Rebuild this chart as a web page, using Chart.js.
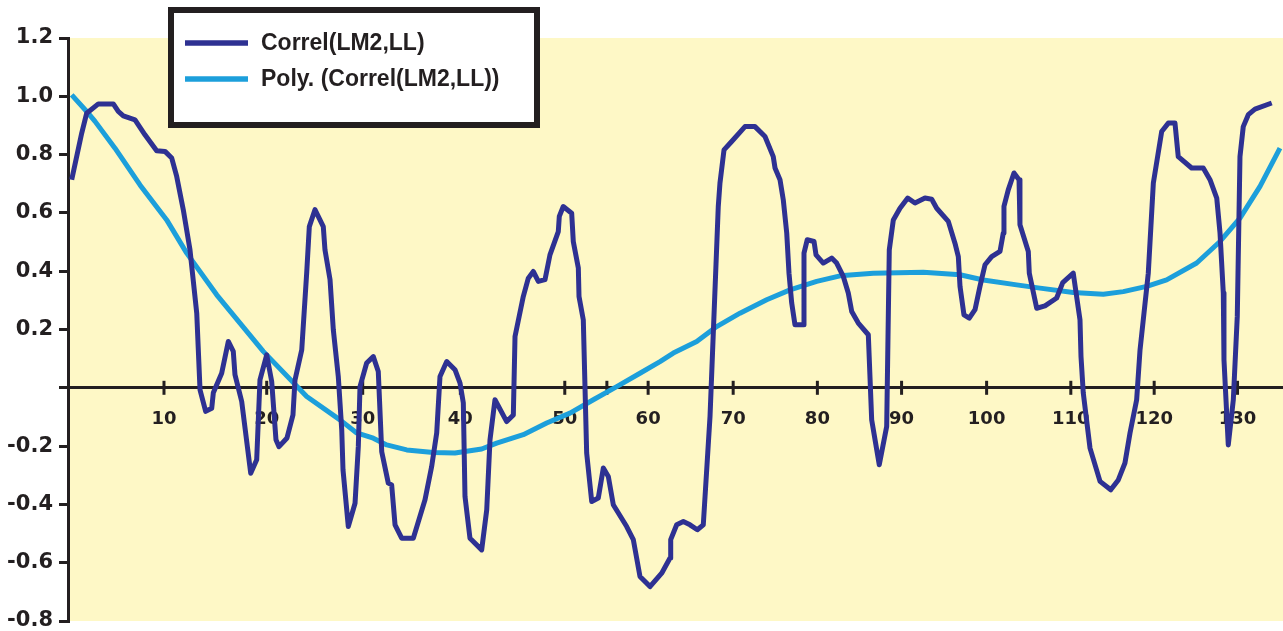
<!DOCTYPE html>
<html>
<head>
    <title>Correl(LM2,LL)</title>
    <script src="https://cdn.jsdelivr.net/npm/chart.js"></script>
    <style>
        body { margin: 0; background: #ffffff; }
        #wrap { width: 1283px; height: 631px; position: relative; }
    </style>
</head>
<body>
    <div id="wrap"><canvas id="corrChart"></canvas></div>
    <script>
    // x values are positions along the category axis (the labelled ticks are not evenly spaced)
    const xTickAt = [11.4, 23.6, 35.0, 46.6, 59.0, 64.0, 68.9, 79.0, 89.0, 99.0, 109.1, 119.1, 129.0, 138.9];
    const xTickText = ['10', '20', '30', '40', '50', '', '60', '70', '80', '90', '100', '110', '120', '130'];

    const corrX = [0.44,1.63,2.22,3.60,5.38,5.97,6.57,7.96,9.14,10.53,
        11.52,12.32,12.91,13.69,14.49,15.29,15.68,16.35,17.07,17.26,
        18.25,19.04,19.63,19.83,20.63,21.70,22.41,22.80,23.60,24.19,
        24.70,25.06,26.01,26.72,26.96,27.76,28.35,28.66,29.33,30.32,
        30.52,31.12,31.51,32.10,32.51,32.66,33.29,34.09,34.48,34.68,
        35.47,36.26,36.85,37.26,38.04,38.44,38.84,39.63,41.01,42.40,
        43.19,43.79,44.18,44.98,45.96,46.56,46.95,47.15,47.74,49.13,
        49.73,50.12,50.71,52.10,52.89,53.09,54.07,54.67,55.26,55.86,
        56.65,57.24,58.23,58.35,58.82,59.82,60.01,60.61,60.69,61.20,
        61.60,62.20,62.98,63.58,64.17,64.76,66.35,67.14,67.93,69.12,
        70.51,71.50,71.58,72.29,73.08,73.87,74.74,75.45,76.25,77.23,
        77.43,77.91,78.82,80.40,81.59,82.78,83.76,83.97,84.56,84.95,
        85.36,85.63,85.95,86.34,87.33,87.41,87.80,88.60,88.84,89.70,
        90.70,91.29,92.08,92.67,93.08,93.86,95.05,95.45,96.35,97.23,
        97.54,98.02,98.81,99.73,100.59,101.78,102.58,103.17,104.55,105.34,
        105.74,105.94,106.41,107.04,107.72,108.31,108.91,109.70,110.69,111.08,
        111.16,111.67,112.35,112.95,113.06,114.05,114.17,115.05,116.03,117.42,
        118.14,119.39,120.19,120.31,120.58,121.38,122.57,123.84,124.74,125.53,
        126.13,126.92,127.32,128.30,128.90,129.89,130.68,131.47,131.86,133.45,
        134.83,135.63,136.43,136.82,137.21,137.29,137.80,138.40,138.87,139.19,
        139.58,140.18,140.97,142.96];
    const corrY = [0.714,0.874,0.942,0.974,0.974,0.948,0.933,0.919,0.868,0.813,
        0.811,0.788,0.725,0.611,0.473,0.256,-0.007,-0.081,-0.070,-0.017,
        0.050,0.159,0.125,0.045,-0.047,-0.293,-0.247,0.027,0.113,0.022,
        -0.178,-0.202,-0.172,-0.093,0.027,0.130,0.395,0.553,0.611,0.553,
        0.473,0.371,0.199,0.039,-0.144,-0.281,-0.476,-0.396,-0.201,0.004,
        0.085,0.107,0.056,-0.219,-0.327,-0.333,-0.470,-0.516,-0.516,-0.384,
        -0.270,-0.155,0.039,0.090,0.062,0.016,-0.052,-0.373,-0.516,-0.556,
        -0.419,-0.178,-0.041,-0.116,-0.093,0.176,0.313,0.376,0.399,0.365,
        0.371,0.456,0.536,0.588,0.622,0.599,0.502,0.411,0.313,0.233,
        -0.224,-0.390,-0.378,-0.275,-0.304,-0.401,-0.476,-0.521,-0.647,-0.682,
        -0.636,-0.584,-0.521,-0.470,-0.459,-0.470,-0.487,-0.470,-0.098,0.622,
        0.702,0.816,0.845,0.896,0.896,0.862,0.793,0.754,0.714,0.645,
        0.531,0.393,0.291,0.216,0.216,0.462,0.508,0.502,0.456,0.428,
        0.445,0.428,0.382,0.325,0.262,0.222,0.182,-0.110,-0.264,-0.133,
        0.473,0.576,0.616,0.651,0.634,0.651,0.647,0.616,0.571,0.496,
        0.450,0.348,0.250,0.239,0.268,0.348,0.422,0.450,0.468,0.531,
        0.622,0.679,0.737,0.714,0.559,0.468,0.393,0.273,0.281,0.308,
        0.361,0.393,0.233,0.107,-0.018,-0.207,-0.321,-0.350,-0.316,-0.258,
        -0.155,-0.041,0.130,0.393,0.702,0.879,0.908,0.908,0.793,0.754,
        0.754,0.714,0.651,0.531,0.325,0.096,-0.196,-0.041,0.245,0.793,
        0.896,0.937,0.956,0.977];

    // polynomial trend line
    const polyX = [0.44,2.22,3.21,5.58,8.55,11.72,14.10,17.66,23.19,28.35,
        32.30,34.29,36.26,37.85,40.23,43.38,45.96,49.13,50.91,54.07,
        56.85,59.62,62.39,65.17,67.93,70.31,71.89,74.67,77.04,79.81,
        82.98,85.75,88.92,91.69,95.64,101.58,105.94,108.71,112.67,115.44,
        119.39,122.96,125.33,128.11,130.48,134.05,136.82,139.19,141.57,143.94];
    const polyY = [1.005,0.948,0.914,0.822,0.696,0.576,0.462,0.319,0.125,-0.030,
        -0.110,-0.155,-0.173,-0.196,-0.213,-0.222,-0.224,-0.210,-0.190,-0.161,
        -0.121,-0.087,-0.041,0.004,0.050,0.090,0.119,0.159,0.210,0.256,
        0.302,0.336,0.365,0.384,0.393,0.396,0.388,0.370,0.353,0.342,
        0.327,0.321,0.330,0.348,0.370,0.428,0.502,0.582,0.691,0.822];

    const ink = '#231f20';
    const axisFont = 'DejaVu Sans';

    const plotBg = {
        id: 'plotBg',
        beforeDraw(chart) {
            const {ctx, chartArea: a} = chart;
            ctx.save();
            ctx.fillStyle = '#fef8c6';
            ctx.fillRect(a.left, a.top, a.right - a.left, a.bottom - a.top);
            ctx.restore();
        }
    };

    // tick marks on the x axis cross the line
    const crossTicks = {
        id: 'crossTicks',
        beforeDatasetsDraw(chart) {
            const {ctx, scales} = chart;
            const y0 = scales.y.getPixelForValue(0);
            ctx.save();
            ctx.strokeStyle = ink;
            ctx.lineWidth = 3;
            scales.x.ticks.forEach(t => {
                const px = scales.x.getPixelForValue(t.value);
                ctx.beginPath();
                ctx.moveTo(px, y0 - 7);
                ctx.lineTo(px, y0 + 7);
                ctx.stroke();
            });
            ctx.restore();
        }
    };

    const boxLegend = {
        id: 'boxLegend',
        afterDraw(chart) {
            const ctx = chart.ctx;
            ctx.save();
            ctx.fillStyle = '#ffffff';
            ctx.fillRect(171, 10, 366, 115);
            ctx.strokeStyle = ink;
            ctx.lineWidth = 6;
            ctx.strokeRect(171, 10, 366, 115);
            ctx.font = 'bold 23px "Liberation Sans"';
            ctx.textBaseline = 'middle';
            chart.data.datasets.forEach((ds, i) => {
                const y = 43 + i * 36;
                ctx.strokeStyle = ds.borderColor;
                ctx.lineWidth = 5.5;
                ctx.beginPath();
                ctx.moveTo(185, y);
                ctx.lineTo(248, y);
                ctx.stroke();
                ctx.fillStyle = ink;
                ctx.fillText(ds.label, 261, y + 1);
            });
            ctx.restore();
        }
    };

    const ctx = document.getElementById('corrChart').getContext('2d');
    new Chart(ctx, {
        type: 'line',
        data: {
            datasets: [{
                label: 'Correl(LM2,LL)',
                data: corrX.map((x, i) => ({x: x, y: corrY[i]})),
                borderColor: '#2e3192',
                borderWidth: 5,
                borderJoinStyle: 'round',
                pointRadius: 0,
                tension: 0
            }, {
                label: 'Poly. (Correl(LM2,LL))',
                data: polyX.map((x, i) => ({x: x, y: polyY[i]})),
                borderColor: '#1c9fdb',
                borderWidth: 5,
                borderJoinStyle: 'round',
                pointRadius: 0,
                tension: 0
            }]
        },
        options: {
            responsive: true,
            maintainAspectRatio: false,
            animation: false,
            layout: { padding: { top: 38, bottom: 10, left: 0, right: 0 } },
            plugins: {
                legend: { display: false },
                tooltip: { enabled: false }
            },
            scales: {
                x: {
                    type: 'linear',
                    position: { y: 0 },
                    min: 0,
                    max: 144.3,
                    afterBuildTicks: scale => {
                        scale.ticks = xTickAt.map(v => ({value: v}));
                    },
                    afterFit: scale => {
                        scale.paddingLeft = 0;
                        scale.paddingRight = 0;
                    },
                    grid: { display: false },
                    border: { display: true, color: ink, width: 3 },
                    ticks: {
                        autoSkip: false,
                        maxRotation: 0,
                        padding: 13,
                        color: ink,
                        font: { family: axisFont, size: 18, weight: 'bold' },
                        callback: (v, i) => xTickText[i]
                    }
                },
                y: {
                    min: -0.8,
                    max: 1.2,
                    afterFit: scale => {
                        scale.width = 68;
                        scale.paddingTop = 0;
                        scale.paddingBottom = 0;
                    },
                    grid: {
                        drawOnChartArea: false,
                        tickLength: 9,
                        color: ink,
                        lineWidth: 3
                    },
                    border: { display: true, color: ink, width: 3 },
                    ticks: {
                        stepSize: 0.2,
                        padding: 6,
                        color: ink,
                        font: { family: axisFont, size: 21, weight: 'bold' },
                        callback: v => Math.abs(v) < 1e-9 ? '' : v.toFixed(1)
                    }
                }
            }
        },
        plugins: [plotBg, crossTicks, boxLegend]
    });
    </script>
</body>
</html>
